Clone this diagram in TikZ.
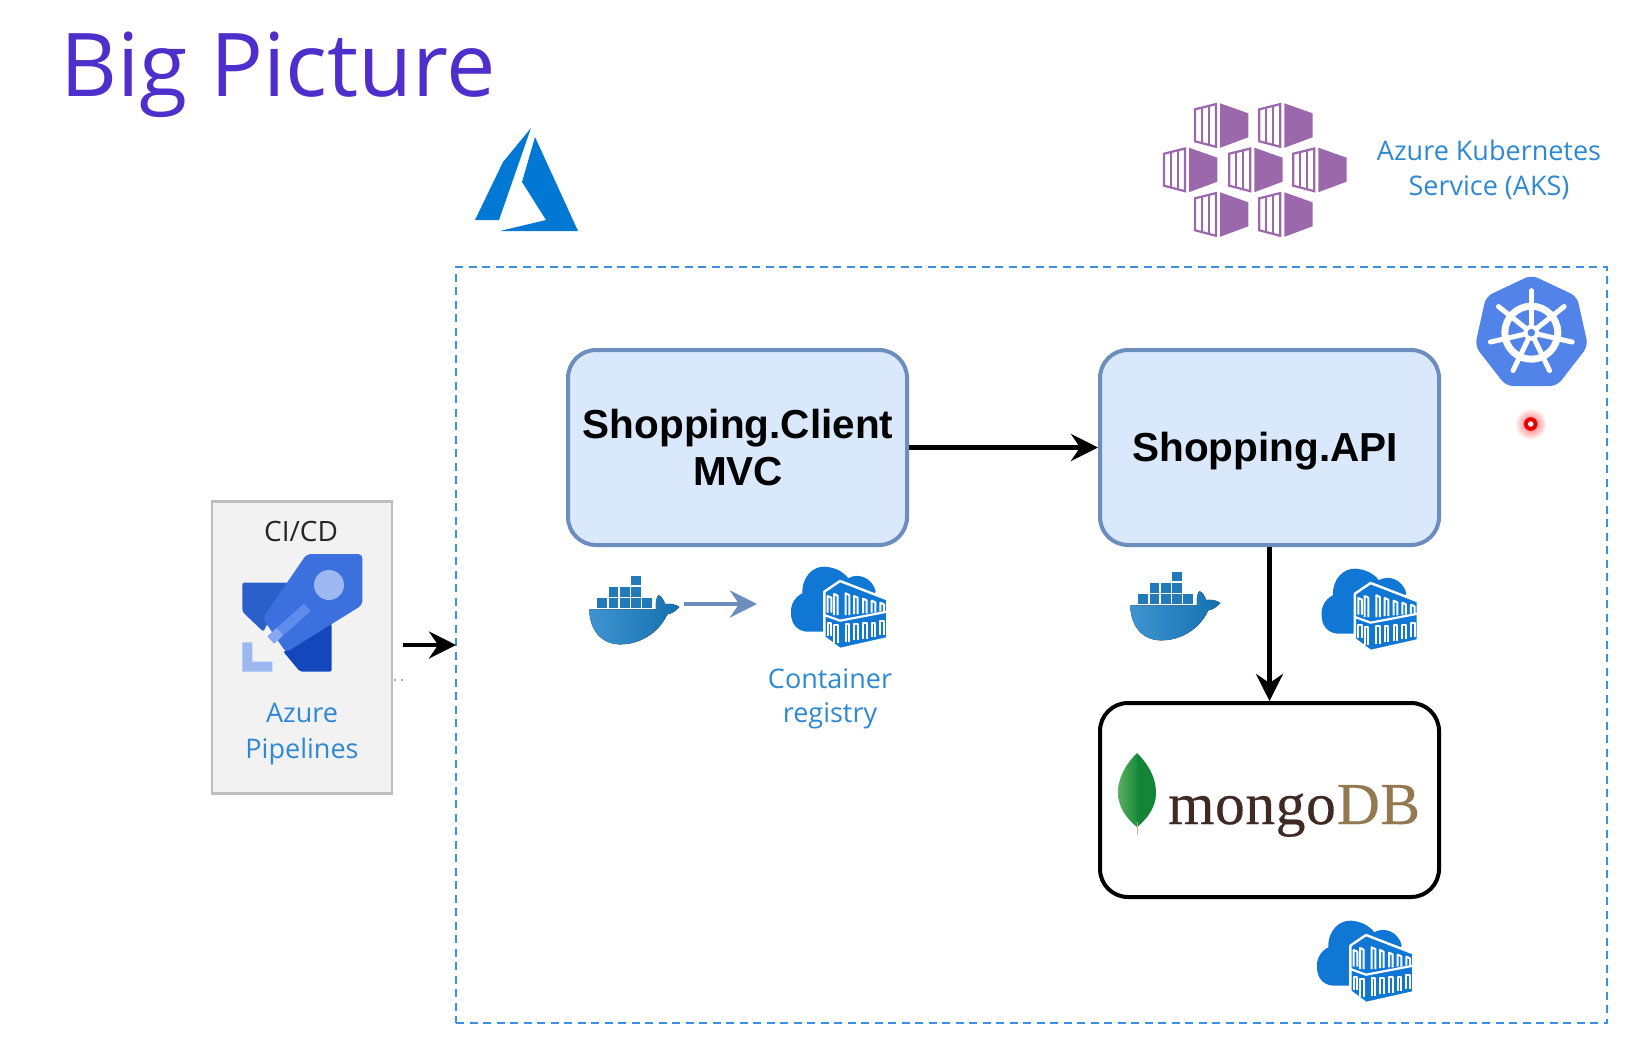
\documentclass[tikz,border=0pt]{standalone}
\usepackage{fontspec}
\setmainfont{Open Sans}
\newfontfamily\boxfont{Liberation Sans}
\newfontfamily\mongofont[FakeBold=0.4,LetterSpace=1]{Liberation Serif}
\usetikzlibrary{arrows.meta,calc}
\definecolor{titlec}{HTML}{4F2FCB}
\definecolor{azurec}{HTML}{0078D4}
\definecolor{labelc}{HTML}{2F88D4}
\definecolor{purpc}{HTML}{9B69AB}
\definecolor{dashc}{HTML}{3C90E2}
\definecolor{kubec}{HTML}{5283E8}
\definecolor{boxfill}{HTML}{DAE8FC}
\definecolor{boxline}{HTML}{6C8EBF}
\definecolor{regc}{HTML}{1078D4}
\definecolor{whaleL}{RGB}{62,148,209}
\definecolor{whaleR}{RGB}{20,112,174}
\definecolor{whaleB}{RGB}{34,122,186}
\definecolor{leafL}{RGB}{90,175,95}
\definecolor{leafM}{RGB}{28,140,62}
\definecolor{leafR}{RGB}{20,132,55}
\definecolor{stemc}{RGB}{190,185,140}
\definecolor{ciline}{RGB}{190,190,190}
\definecolor{cifill}{RGB}{242,242,242}
\definecolor{rockA}{RGB}{42,96,202}
\definecolor{rockB}{RGB}{20,70,190}
\definecolor{rockC}{RGB}{60,112,222}
\definecolor{rockD}{RGB}{157,184,240}
\definecolor{rockE}{RGB}{95,140,235}
\definecolor{rockF}{RGB}{135,168,240}
\tikzset{
  txt/.style={inner sep=0pt,anchor=base,align=center},
  svc/.style={draw=boxline,fill=boxfill,line width=4pt,rounded corners=28pt,inner sep=0pt},
  dbbox/.style={draw=black,fill=white,line width=4pt,rounded corners=28pt,inner sep=0pt},
  bold lab/.style={txt,font=\boxfont\bfseries\fontsize{40.5}{47}\selectfont},
  azlab/.style={txt,text=labelc,font=\fontsize{27}{34}\selectfont},
  flow/.style={line width=4.4pt,-{Stealth[length=27pt,width=27pt,inset=9pt]}},
  softflow/.style={draw=boxline,line width=4.5pt,-{Stealth[length=27pt,width=27pt,inset=9pt]}},
}
\newcommand{\kubecube}[2]{%
  \begin{scope}[shift={(#1,#2)}]
    \fill[purpc] (25,0) -- (53.3,10) -- (53.3,34) -- (25,44.5) -- cycle;
    \draw[purpc,line width=2.2pt,line join=miter,fill=white] (0,6) -- (21,0.8) -- (21,43.5) -- (0,38) -- cycle;
    \draw[purpc,line width=1.8pt] (7,4.4) -- (7,39.7) (14,2.6) -- (14,41.6);
  \end{scope}}
\newcommand{\whale}[2]{%
  \begin{scope}[shift={(#1,#2)},x=0.33333pt,y=-0.33333pt]
    \fill[left color=whaleL,right color=whaleR]
      (28,133) -- (228,133) .. controls (226,115) and (228,100) .. (235,90)
      .. controls (245,95) and (252,105) .. (255,117)
      .. controls (272,115) and (288,118) .. (298,126)
      .. controls (288,138) and (275,146) .. (262,148)
      .. controls (235,205) and (180,238) .. (120,238)
      .. controls (65,238) and (28,195) .. (28,133) -- cycle;
    \foreach \a in {52,86,120,153,187} {\fill[whaleB] (\a,100) rectangle ++(29,28);}
    \foreach \a in {86,120,153} {\fill[whaleB] (\a,67) rectangle ++(29,28);}
    \fill[whaleB] (153,33) rectangle ++(29,28);
  \end{scope}}
\newcommand{\registry}[2]{%
  \begin{scope}[shift={(#1,#2)},x=0.33333pt,y=-0.33333pt]
    \fill[regc] (18,160) .. controls (15,125) and (40,105) .. (52,100)
      .. controls (50,50) and (85,18) .. (120,20)
      .. controls (150,22) and (175,35) .. (190,55)
      .. controls (215,38) and (262,50) .. (272,95)
      -- (200,215) -- (65,215) .. controls (35,212) and (18,190) .. (18,160) -- cycle;
    \draw[white,line width=2.4pt,fill=regc,line join=round]
      (118,95) -- (165,63) -- (307,118) -- (307,235) -- (165,267) -- (118,232) -- cycle;
    \draw[white,line width=2.2pt] (118,165) -- (165,182) -- (307,155);
    \foreach \xa/\ya/\yb in {128/108/158,147/102/165,182/100/165,207/108/162,234/116/160,260/122/158,286/128/155}
      {\draw[white,line width=2pt,line join=round] (\xa,\yb) -- (\xa,\ya) -- ++(11,5) -- (\xa+11,\yb);}
    \foreach \xa/\ya/\yb in {128/190/228,147/196/248,182/192/245,207/192/240,234/190/236,260/188/232,286/184/226}
      {\draw[white,line width=2pt,line join=round] (\xa,\yb) -- (\xa,\ya) -- ++(11,0) -- (\xa+11,\yb);}
  \end{scope}}
\begin{document}
\begin{tikzpicture}[x=1pt,y=-1pt]
\useasboundingbox (0,0) rectangle (1641,1039);
\fill[white] (0,0) rectangle (1641,1039);

% title
\node[inner sep=0pt,anchor=base west,text=titlec,font=\fontsize{88}{100}\selectfont] (title) at (60,96) {Big Picture};

% azure logo
\fill[azurec] (531,128) -- (503,162) -- (475,220) -- (499,220) -- cycle;
\fill[azurec] (535,137) -- (522,182) -- (546,220) -- (500,231) -- (578,231) -- cycle;

% AKS logo
\foreach \cx/\cy in {1195/103.3,1259.3/103.3,1164/147.7,1229.3/147.7,1293.3/147.7,1195/192.3,1259.3/192.3}
  {\kubecube{\cx}{\cy}}

\node[azlab] (aks1) at (1489,160) {Azure Kubernetes};
\node[azlab] (aks2) at (1489,195) {Service (AKS)};

% cluster frame
\node[draw=dashc,line width=2.7pt,dash pattern=on 8pt off 5.5pt,minimum width=1151pt,minimum height=756pt,inner sep=0pt] (cluster) at (1031.5,645) {};

% kubernetes wheel
\fill[kubec,rounded corners=7pt] (1531.5,275) -- (1577,296.5) -- (1588,346) -- (1557,386) -- (1506,386) -- (1475,346) -- (1486,296.5) -- cycle;
\begin{scope}[shift={(1531.3,332.7)}]
  \draw[white,line width=7pt] (0,0) circle[radius=26.5pt];
  \foreach \a in {90,141.43,192.86,244.29,295.71,347.14,38.57}
    {\draw[white,line width=5pt,line cap=round] (0,0) -- (\a:42pt);}
  \fill[white] (0,0) circle[radius=8pt];
  \fill[kubec] (0,0) circle[radius=3.8pt];
\end{scope}

% pointer
\shade[inner color=red!65,outer color=white] (1530.7,424) circle[radius=16pt];
\fill[red!92!black] (1530.7,424) circle[radius=6.8pt];
\fill[white!85!pink] (1530.7,424) circle[radius=2.8pt];

% services
\node[svc,minimum width=339pt,minimum height=195pt] (client) at (737.5,447.5) {};
\node[svc,minimum width=339pt,minimum height=195pt] (api) at (1269.5,447.5) {};
\node[dbbox,minimum width=339pt,minimum height=194pt] (mongo) at (1269.5,800) {};
\node[bold lab] (clienta) at (738,438) {Shopping.Client};
\node[bold lab] (clientb) at (738,485.5) {MVC};
\node[bold lab] (apil) at (1265,461.5) {Shopping.API};

\draw[flow] (client.east) -- (api.west);
\draw[flow] (api.south) -- (mongo.north);

% mongo logo
\shade[left color=leafL,right color=leafM]
  (1137,753) .. controls (1125,765) and (1118,778) .. (1118,793) .. controls (1118,808) and (1128,820) .. (1137,827) -- cycle;
\fill[leafR] (1137,753) .. controls (1149,765) and (1156,778) .. (1156,793) .. controls (1156,808) and (1146,820) .. (1137,827) -- cycle;
\draw[stemc,line width=1.6pt] (1137.5,822) -- (1137.5,835);
\node[inner sep=0pt,anchor=base west,font=\mongofont\fontsize{59.5}{60}\selectfont] (mongot) at (1168,824)
  {\textcolor[HTML]{3F2A24}{mongo}\hspace{1pt}\textcolor[HTML]{94784F}{DB}};

% docker and registries
\whale{580}{565}
\whale{1121}{561}
\registry{785}{560}
\registry{1315.6}{562}
\registry{1311}{914}
\coordinate (dockout) at (684,604);
\coordinate (regin) at (757,604);
\draw[softflow] (dockout) -- (regin);
\node[azlab] (cr1) at (830,688) {Container};
\node[azlab] (cr2) at (830,722) {registry};

% CI/CD
\node[draw=ciline,fill=cifill,line width=2.6pt,minimum width=180pt,minimum height=292pt,inner sep=0pt] (cicd) at (302,647.5) {};
\node[txt,text=black!85,font=\fontsize{28}{30}\selectfont] (cit) at (301,541) {CI/CD};
\node[azlab] (pip1) at (302,722) {Azure};
\node[azlab] (pip2) at (302,758) {Pipelines};
\begin{scope}[shift={(200,490)},x=0.33333pt,y=-0.33333pt]
  \fill[rockA,rounded corners=2pt] (127,278) -- (265,278) -- (190,425) -- (127,365) -- cycle;
  \fill[rockB,rounded corners=2pt] (395,400) -- (395,545) -- (300,545) -- (250,485) -- cycle;
  \fill[rockC,rounded corners=4pt] (320,192) -- (487,192) -- (487,345) -- (258,487) -- (188,385) -- cycle;
  \fill[rockD] (387,285) circle[radius=15pt];
  \draw[rockE,line width=10pt] (322,352) -- (240,425);
  \draw[rockF,line width=10pt] (240,425) -- (212,450);
  \fill[rockD] (127,457) -- (157,457) -- (157,515) -- (217,515) -- (217,545) -- (127,545) -- cycle;
\end{scope}
\coordinate (ciout) at (403,645);
\coordinate (clusterin) at (456,645);
\draw[flow] (ciout) -- (clusterin);
\fill[black!45] (395,680) circle[radius=1.2pt] (402,680) circle[radius=1.2pt];
\end{tikzpicture}
\end{document}
